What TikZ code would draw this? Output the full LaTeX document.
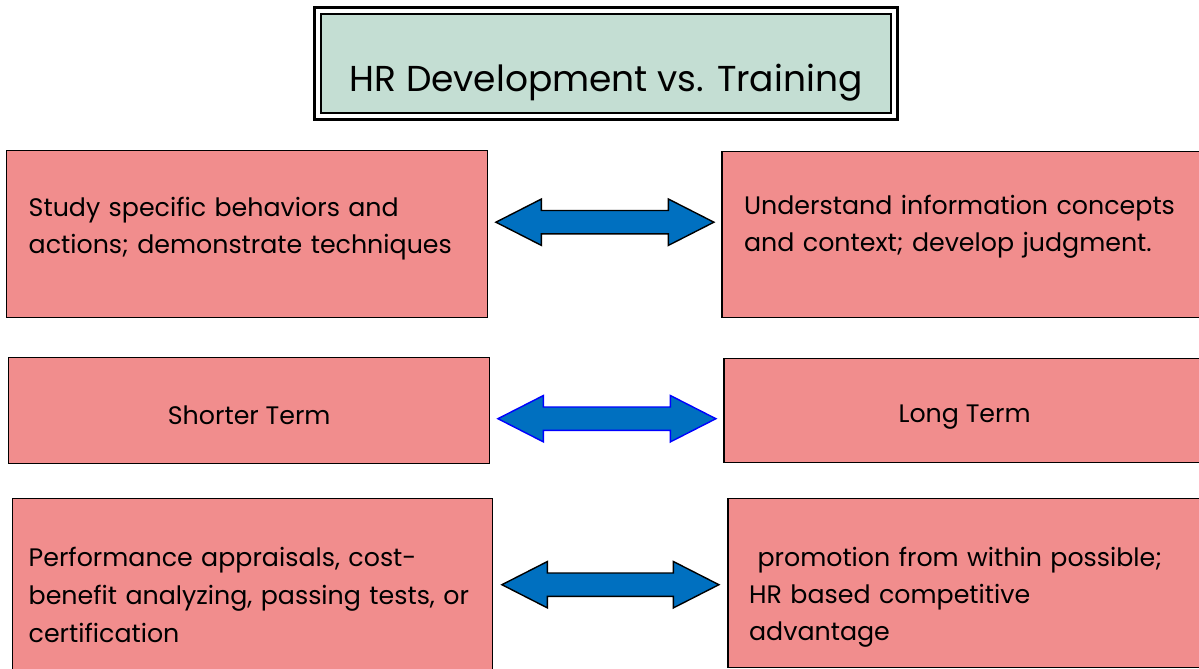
\documentclass[tikz,border=0pt]{standalone}
\usepackage{fontspec}
\setmainfont{Poppins}
\usepackage{xcolor}
\usetikzlibrary{shapes, arrows, positioning, calc}

\definecolor{boxpink}{RGB}{241,141,141}
\definecolor{titlegreen}{RGB}{196,222,211}
\definecolor{arrowblue}{RGB}{0,112,192}

\begin{document}
\begin{tikzpicture}[
        x=1pt, y=-1pt,
        box/.style={rectangle, draw, line width=1.4pt, fill=boxpink, inner sep=0pt, font=\fontsize{25.3}{36.5}\selectfont},
        link/.style={double arrow, draw, line width=1.4pt, fill=arrowblue, minimum height=218pt, inner sep=0pt, text height=11pt, text depth=11pt, double arrow head extend=11.5pt, double arrow tip angle=54}
    ]
        \useasboundingbox (0,0) rectangle (1199,669);

        % title
        \node[draw, line width=1.2pt, fill=titlegreen, minimum width=570pt, minimum height=99pt, text height=57pt, text depth=0pt, font=\fontsize{36}{40}\selectfont] (title) at (606,63.5) {HR Development vs. Training};
        \draw[line width=3pt] ([shift={(-6,-6)}]title.north west) rectangle ([shift={(6,6)}]title.south east);

        % development / training boxes
        \node[box, minimum width=481pt, minimum height=167pt, text width=437pt, align=left, text height=20pt, text depth=55pt, anchor=north west] (dev1) at (6,150) {Study specific behaviors and\\ actions; demonstrate techniques};
        \node[box, right=233pt of dev1, minimum width=483pt, minimum height=166pt, text width=439pt, align=left, text height=20pt, text depth=59pt] (train1) {Understand information concepts\\ and context; develop judgment.};

        \node[box, minimum width=481pt, minimum height=106pt, text height=28pt, text depth=0pt, anchor=north west] (dev2) at (8,357) {Shorter Term};
        \node[box, right=233pt of dev2, minimum width=481pt, minimum height=104pt, text height=24pt, text depth=0pt] (train2) {Long Term};

        \node[box, minimum width=480pt, minimum height=190pt, text width=448pt, align=left, text height=20pt, text depth=74pt, font=\fontsize{25.3}{38}\selectfont, anchor=north west] (dev3) at (12,498) {Performance appraisals, cost-\\ benefit analyzing, passing tests, or\\ certification};
        \node[box, right=234pt of dev3.north east, anchor=north west, minimum width=477pt, minimum height=169pt, text width=435pt, align=left, text height=20pt, text depth=53pt, font=\fontsize{25.3}{37}\selectfont] (train3) {\ promotion from within possible;\\ HR based competitive\\ advantage};

        % arrows
        \node[link] (link1) at ($(dev1.east)!0.5!(train1.west) + (0,-12)$) {};
        \node[link, draw=blue] (link2) at ($(dev2.east)!0.5!(train2.west) + (0,8)$) {};
        \node[link, minimum height=217pt] (link3) at ($(dev3.east |- train3.east)!0.5!(train3.west) + (0,1.5)$) {};

    \end{tikzpicture}
\end{document}
